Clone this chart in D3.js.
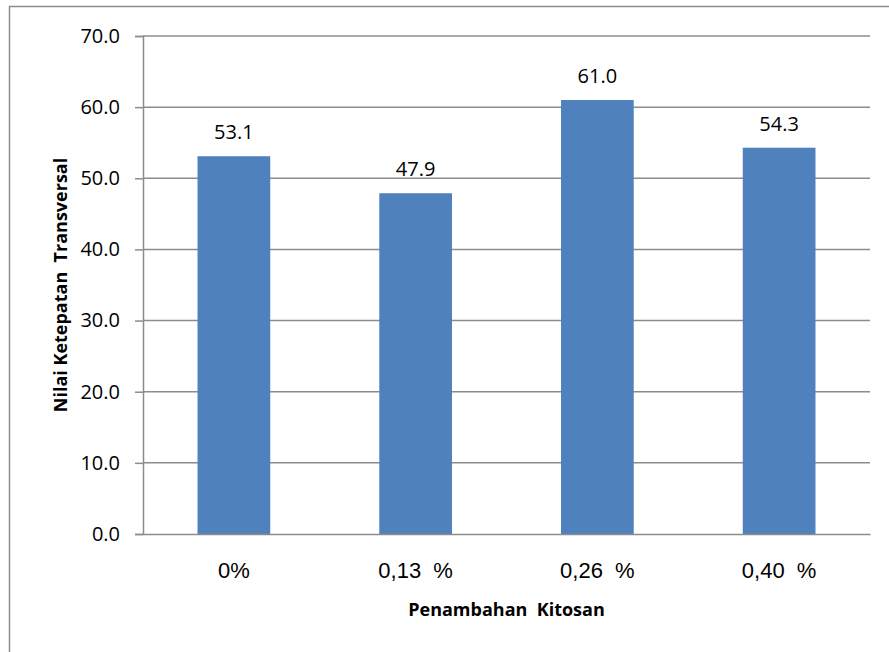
<!DOCTYPE html>
<html>
<head>
<meta charset="utf-8">
<script src="https://cdn.jsdelivr.net/npm/d3@7"></script>
<style>
  html, body { margin: 0; padding: 0; background: #fff; }
  svg { display: block; }
</style>
</head>
<body>
<div id="chart"></div>
<script>
// Transversal accuracy scores per chitosan addition level
const categories = ["0%", "0,13  %", "0,26  %", "0,40  %"];
const values = [53.1, 47.9, 61.0, 54.3];
const yTicks = [0, 10, 20, 30, 40, 50, 60, 70];
const xTitle = "Penambahan  Kitosan";
const yTitle = "Nilai Ketepatan  Transversal";

const W = 889, H = 652;
const margin = { left: 143, right: 19, top: 36, bottom: 118 };
const plotW = W - margin.left - margin.right;
const plotH = H - margin.top - margin.bottom;

const svg = d3.select("#chart").append("svg")
  .attr("width", W).attr("height", H);

// frame around the chart area
svg.append("path")
  .attr("d", `M9.5,${H} V6.5 H${W}`)
  .attr("fill", "none").attr("stroke", "#8c8c8c").attr("stroke-width", 1.5);

const g = svg.append("g").attr("transform", `translate(${margin.left},${margin.top})`);

const x = d3.scaleBand().domain(categories).range([0, plotW])
  .paddingInner(0.6).paddingOuter(0.3);
const y = d3.scaleLinear().domain([0, 70]).range([plotH, 0]);

// horizontal gridlines
g.append("g").selectAll("line").data(yTicks.filter(d => d > 0)).join("line")
  .attr("x1", 0).attr("x2", plotW)
  .attr("y1", d => y(d)).attr("y2", d => y(d))
  .attr("stroke", "#8c8c8c").attr("stroke-width", 1.5);

// bars
g.append("g").selectAll("rect").data(values).join("rect")
  .attr("x", (d, i) => x(categories[i]))
  .attr("width", x.bandwidth())
  .attr("y", d => y(d))
  .attr("height", d => plotH - y(d))
  .attr("fill", "#4f81bd");

// value labels
g.append("g").selectAll("text").data(values).join("text")
  .attr("x", (d, i) => x(categories[i]) + x.bandwidth() / 2)
  .attr("y", d => y(d) - 17)
  .attr("text-anchor", "middle")
  .attr("font-family", "Open Sans, sans-serif")
  .attr("font-size", 20)
  .attr("fill", "#000")
  .text(d => d.toFixed(1));

// y axis
const yAxis = g.append("g")
  .call(d3.axisLeft(y).tickValues(yTicks).tickSize(8).tickPadding(15)
    .tickFormat(d => d.toFixed(1)));
yAxis.select(".domain").attr("stroke", "#8c8c8c").attr("stroke-width", 1.5);
yAxis.selectAll(".tick line").attr("stroke", "#8c8c8c").attr("stroke-width", 1.5);
yAxis.selectAll(".tick text")
  .attr("font-family", "Open Sans, sans-serif")
  .attr("font-size", 20).attr("fill", "#000");

// x axis baseline
const xAxis = g.append("g").attr("transform", `translate(0,${plotH})`)
  .call(d3.axisBottom(x).tickSize(0).tickPadding(28));
xAxis.select(".domain").attr("stroke", "#8c8c8c").attr("stroke-width", 1.5);
xAxis.selectAll(".tick text")
  .attr("font-family", "Liberation Sans, Arial, sans-serif")
  .attr("font-size", 22).attr("fill", "#000")
  .style("white-space", "pre");

// axis titles
svg.append("text")
  .attr("x", margin.left + plotW / 2).attr("y", 616)
  .attr("text-anchor", "middle")
  .attr("font-family", "Open Sans, DejaVu Sans, sans-serif")
  .attr("font-weight", "bold").attr("font-size", 18)
  .style("white-space", "pre")
  .text(xTitle);

svg.append("text")
  .attr("transform", `translate(67,${margin.top + plotH / 2}) rotate(-90)`)
  .attr("text-anchor", "middle")
  .attr("font-family", "Open Sans, DejaVu Sans, sans-serif")
  .attr("font-weight", "bold").attr("font-size", 18)
  .style("white-space", "pre")
  .text(yTitle);
</script>
</body>
</html>
